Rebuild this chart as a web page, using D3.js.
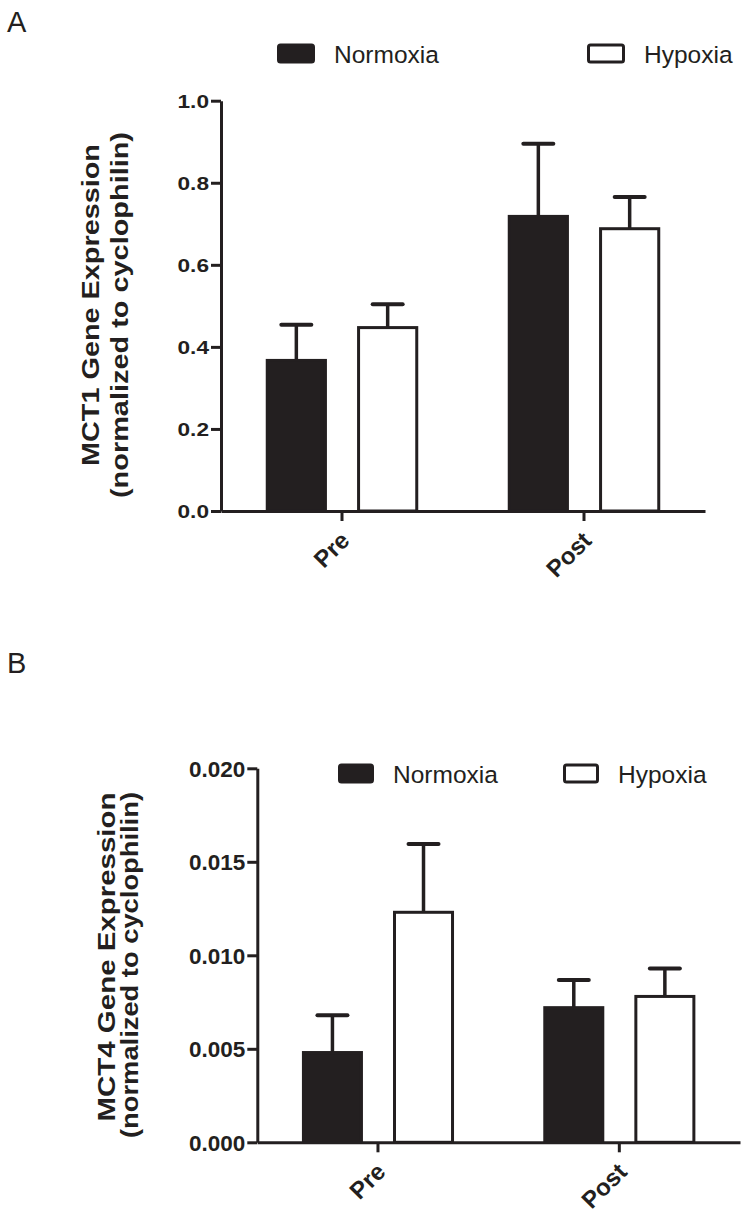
<!DOCTYPE html>
<html>
<head>
<meta charset="utf-8">
<script src="https://cdn.jsdelivr.net/npm/d3@7"></script>
<style>
  body { margin: 0; background: #fff; }
  svg { display: block; font-family: "Liberation Sans", Arial, sans-serif; }
</style>
</head>
<body>
<script>
// ---- data ----
var groups = ["Pre", "Post"];
var series = ["Normoxia", "Hypoxia"];

// panel A : MCT1
var mct1Normoxia    = [0.367, 0.718];
var mct1Hypoxia     = [0.447, 0.688];
var mct1NormoxiaErr = [0.087, 0.177];
var mct1HypoxiaErr  = [0.057, 0.077];
var mct1Ticks       = [0.0, 0.2, 0.4, 0.6, 0.8, 1.0];

// panel B : MCT4
var mct4Normoxia    = [0.0048, 0.0072];
var mct4Hypoxia     = [0.0123, 0.0078];
var mct4NormoxiaErr = [0.0020, 0.00148];
var mct4HypoxiaErr  = [0.00365, 0.0015];
var mct4Ticks       = [0.000, 0.005, 0.010, 0.015, 0.020];

var ink = "#231f20";

var svg = d3.select("body").append("svg")
            .attr("width", 748)
            .attr("height", 1218);

function drawPanel(p) {
  var g = svg.append("g");

  var x = d3.scaleBand().domain(groups).range([p.x0, p.x1]).padding(0);
  var xs = d3.scaleBand().domain(series).range([0, x.bandwidth()])
             .paddingInner(0.33).paddingOuter(0.49);
  var y = d3.scaleLinear().domain([0, p.max]).range([p.yZero, p.yTop]);

  // build rows for bars
  var rows = [];
  groups.forEach(function(gr, i) {
    rows.push({ group: gr, s: "Normoxia", v: p.normoxia[i], e: p.normoxiaErr[i] });
    rows.push({ group: gr, s: "Hypoxia",  v: p.hypoxia[i],  e: p.hypoxiaErr[i] });
  });

  // error bars (upper only), drawn first so the bar outline sits on top
  var err = g.selectAll(".err").data(rows).enter().append("g");
  err.append("line")
     .attr("x1", function(d) { return x(d.group) + xs(d.s) + xs.bandwidth() / 2; })
     .attr("x2", function(d) { return x(d.group) + xs(d.s) + xs.bandwidth() / 2; })
     .attr("y1", function(d) { return y(d.v); })
     .attr("y2", function(d) { return y(d.v + d.e); })
     .attr("stroke", ink).attr("stroke-width", 3.5);
  err.append("line")
     .attr("x1", function(d) { return x(d.group) + xs(d.s) + xs.bandwidth() / 2 - 15; })
     .attr("x2", function(d) { return x(d.group) + xs(d.s) + xs.bandwidth() / 2 + 15; })
     .attr("y1", function(d) { return y(d.v + d.e); })
     .attr("y2", function(d) { return y(d.v + d.e); })
     .attr("stroke", ink).attr("stroke-width", 4).attr("stroke-linecap", "round");

  g.selectAll(".bar").data(rows).enter().append("rect")
   .attr("x", function(d) { return x(d.group) + xs(d.s) + 1.5; })
   .attr("width", xs.bandwidth() - 3)
   .attr("y", function(d) { return y(d.v); })
   .attr("height", function(d) { return p.yZero - y(d.v); })
   .attr("fill", function(d) { return d.s === "Normoxia" ? ink : "#fff"; })
   .attr("stroke", ink)
   .attr("stroke-width", 3);

  // y axis
  var yAxis = g.append("g")
    .attr("transform", "translate(" + p.x0 + ",0)")
    .call(d3.axisLeft(y).tickValues(p.ticks).tickSize(10).tickSizeOuter(0)
           .tickFormat(d3.format(p.fmt)));
  yAxis.select(".domain").attr("stroke", ink).attr("stroke-width", 3);
  yAxis.selectAll(".tick line").attr("stroke", ink).attr("stroke-width", 3);
  yAxis.selectAll(".tick text")
       .attr("fill", ink)
       .attr("x", -12)
       .attr("dy", "0.36em")
       .style("font-size", p.tickFont + "px")
       .style("font-weight", "bold");
  if (p.tickLen) {
    yAxis.selectAll(".tick text")
         .attr("textLength", p.tickLen)
         .attr("lengthAdjust", "spacingAndGlyphs");
  }

  // x axis
  var xAxis = g.append("g")
    .attr("transform", "translate(0," + p.yZero + ")")
    .call(d3.axisBottom(x).tickSize(10).tickSizeOuter(0));
  xAxis.select(".domain").attr("stroke", ink).attr("stroke-width", 3);
  xAxis.selectAll(".tick line").attr("stroke", ink).attr("stroke-width", 3);
  xAxis.selectAll(".tick text")
       .attr("fill", ink)
       .attr("text-anchor", "end")
       .attr("x", 0).attr("y", 0).attr("dy", 0)
       .attr("transform", "translate(9,31) rotate(-45)")
       .style("font-size", "24px")
       .style("font-weight", "bold");

  // y title, two lines
  p.title.forEach(function(t) {
    g.append("text")
     .attr("transform", "translate(" + t.x + "," + t.cy + ") rotate(-90)")
     .attr("text-anchor", "middle")
     .attr("textLength", t.len)
     .attr("lengthAdjust", "spacingAndGlyphs")
     .attr("fill", ink)
     .style("font-size", "23px")
     .style("font-weight", "bold")
     .text(t.text);
  });

  // legend
  var leg = g.selectAll(".leg").data(series).enter().append("g")
             .attr("transform", function(d, i) { return "translate(" + p.legX[i] + "," + p.legY + ")"; });
  leg.append("rect")
     .attr("x", 1.5).attr("y", 1.5)
     .attr("width", p.swW - 3).attr("height", 17)
     .attr("rx", 2)
     .attr("fill", function(d) { return d === "Normoxia" ? ink : "#fff"; })
     .attr("stroke", ink).attr("stroke-width", 3);
  leg.append("text")
     .attr("x", p.swW + 19)
     .attr("y", 19)
     .attr("fill", ink)
     .style("font-size", "24.5px")
     .text(function(d) { return d; });

  // panel letter
  svg.append("text")
     .attr("x", 7).attr("y", p.letterY)
     .attr("fill", ink)
     .style("font-size", "29px")
     .text(p.letter);
}

drawPanel({
  letter: "A", letterY: 32,
  x0: 221, x1: 705, yZero: 511, yTop: 100.7, max: 1.0,
  normoxia: mct1Normoxia, hypoxia: mct1Hypoxia,
  normoxiaErr: mct1NormoxiaErr, hypoxiaErr: mct1HypoxiaErr,
  ticks: mct1Ticks, fmt: ".1f", tickFont: 19, tickLen: 31.5,
  title: [
    { text: "MCT1 Gene Expression", x: 99, cy: 305, len: 322 },
    { text: "(normalized to cyclophilin)", x: 128, cy: 315, len: 366 }
  ],
  legX: [277, 587], legY: 43.5, swW: 38
});

drawPanel({
  letter: "B", letterY: 673,
  x0: 257.3, x1: 740, yZero: 1142.3, yTop: 768.3, max: 0.020,
  normoxia: mct4Normoxia, hypoxia: mct4Hypoxia,
  normoxiaErr: mct4NormoxiaErr, hypoxiaErr: mct4HypoxiaErr,
  ticks: mct4Ticks, fmt: ".3f", tickFont: 22.5, tickLen: 0,
  title: [
    { text: "MCT4 Gene Expression", x: 115, cy: 957, len: 329 },
    { text: "(normalized to cyclophilin)", x: 138, cy: 965, len: 346 }
  ],
  legX: [338, 563], legY: 763.5, swW: 36
});
</script>
</body>
</html>
